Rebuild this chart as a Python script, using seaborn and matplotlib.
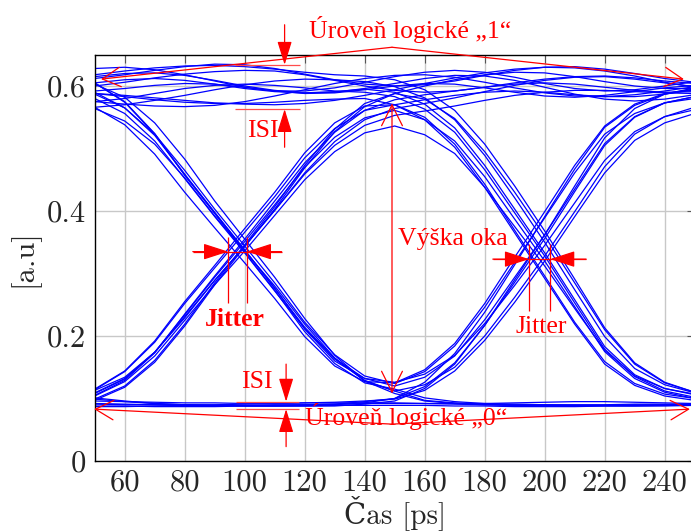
import matplotlib
matplotlib.use("Agg")
import matplotlib.pyplot as plt
import pandas as pd
import seaborn as sns

# sampling instants of every recorded trace [ps]
time_ps = [50, 60, 70, 80, 90, 100, 110, 120, 130, 140, 150,
           160, 170, 180, 190, 200, 210, 220, 230, 240, 250]

# traces grouped by the three bits they carry (at ~48, ~148 and ~248 ps)
trace_111 = [
    [0.600, 0.606, 0.613, 0.619, 0.623, 0.625, 0.624, 0.618, 0.609, 0.600, 0.593, 0.590, 0.592, 0.598, 0.605, 0.611, 0.615, 0.616, 0.613, 0.608, 0.604],
    [0.588, 0.585, 0.581, 0.577, 0.573, 0.571, 0.570, 0.572, 0.577, 0.585, 0.594, 0.604, 0.613, 0.621, 0.627, 0.630, 0.629, 0.624, 0.616, 0.606, 0.598],
    [0.615, 0.620, 0.621, 0.617, 0.609, 0.600, 0.593, 0.589, 0.590, 0.596, 0.604, 0.612, 0.617, 0.616, 0.609, 0.598, 0.587, 0.579, 0.576, 0.579, 0.586],
    [0.592, 0.596, 0.601, 0.604, 0.603, 0.598, 0.592, 0.588, 0.589, 0.594, 0.600, 0.604, 0.603, 0.597, 0.590, 0.584, 0.582, 0.585, 0.591, 0.597, 0.601],
    [0.628, 0.630, 0.626, 0.618, 0.608, 0.598, 0.592, 0.592, 0.597, 0.606, 0.615, 0.622, 0.625, 0.622, 0.614, 0.604, 0.596, 0.592, 0.594, 0.600, 0.607],
    [0.575, 0.571, 0.568, 0.567, 0.569, 0.575, 0.584, 0.594, 0.604, 0.612, 0.617, 0.618, 0.614, 0.606, 0.597, 0.589, 0.584, 0.583, 0.586, 0.592, 0.599],
    [0.612, 0.618, 0.625, 0.631, 0.635, 0.634, 0.628, 0.619, 0.610, 0.603, 0.600, 0.602, 0.608, 0.617, 0.625, 0.630, 0.631, 0.627, 0.620, 0.612, 0.606],
]
trace_110 = [
    [0.605, 0.610, 0.612, 0.609, 0.603, 0.596, 0.591, 0.589, 0.591, 0.595, 0.590, 0.571, 0.533, 0.473, 0.403, 0.333, 0.258, 0.183, 0.138, 0.116, 0.106],
    [0.588, 0.583, 0.578, 0.574, 0.572, 0.572, 0.574, 0.577, 0.579, 0.580, 0.570, 0.546, 0.502, 0.438, 0.365, 0.292, 0.219, 0.155, 0.121, 0.104, 0.097],
    [0.618, 0.624, 0.629, 0.632, 0.633, 0.631, 0.627, 0.622, 0.618, 0.616, 0.610, 0.594, 0.561, 0.507, 0.440, 0.368, 0.291, 0.213, 0.157, 0.126, 0.110],
    [0.575, 0.580, 0.588, 0.596, 0.601, 0.603, 0.601, 0.597, 0.592, 0.590, 0.583, 0.563, 0.526, 0.466, 0.397, 0.328, 0.253, 0.179, 0.135, 0.112, 0.102],
    [0.566, 0.570, 0.577, 0.585, 0.594, 0.602, 0.608, 0.611, 0.610, 0.607, 0.599, 0.581, 0.546, 0.489, 0.421, 0.350, 0.274, 0.199, 0.148, 0.122, 0.109],
]
trace_011 = [
    [0.105, 0.129, 0.173, 0.235, 0.296, 0.355, 0.416, 0.477, 0.526, 0.561, 0.578, 0.586, 0.592, 0.598, 0.603, 0.605, 0.603, 0.598, 0.593, 0.590, 0.591],
    [0.114, 0.143, 0.190, 0.252, 0.309, 0.366, 0.423, 0.485, 0.532, 0.561, 0.570, 0.578, 0.585, 0.590, 0.592, 0.590, 0.586, 0.583, 0.583, 0.587, 0.594],
    [0.097, 0.118, 0.158, 0.216, 0.282, 0.343, 0.403, 0.469, 0.527, 0.567, 0.588, 0.600, 0.610, 0.618, 0.622, 0.621, 0.615, 0.607, 0.600, 0.596, 0.596],
    [0.109, 0.132, 0.174, 0.231, 0.289, 0.344, 0.401, 0.459, 0.505, 0.537, 0.553, 0.560, 0.568, 0.577, 0.585, 0.590, 0.593, 0.593, 0.591, 0.589, 0.588],
    [0.113, 0.134, 0.174, 0.229, 0.289, 0.344, 0.401, 0.461, 0.511, 0.546, 0.564, 0.572, 0.581, 0.591, 0.601, 0.609, 0.614, 0.615, 0.611, 0.605, 0.599],
]
trace_010 = [
    [0.104, 0.127, 0.168, 0.225, 0.282, 0.336, 0.393, 0.450, 0.495, 0.525, 0.536, 0.522, 0.492, 0.438, 0.375, 0.312, 0.244, 0.177, 0.136, 0.116, 0.107],
    [0.115, 0.144, 0.192, 0.255, 0.313, 0.372, 0.430, 0.493, 0.541, 0.568, 0.570, 0.550, 0.507, 0.443, 0.369, 0.296, 0.222, 0.159, 0.124, 0.107, 0.100],
    [0.099, 0.120, 0.161, 0.219, 0.285, 0.346, 0.407, 0.473, 0.531, 0.572, 0.588, 0.579, 0.548, 0.495, 0.430, 0.360, 0.285, 0.210, 0.155, 0.125, 0.110],
    [0.108, 0.131, 0.174, 0.234, 0.294, 0.351, 0.410, 0.470, 0.518, 0.549, 0.561, 0.546, 0.512, 0.455, 0.387, 0.320, 0.247, 0.175, 0.132, 0.110, 0.100],
]
trace_101 = [
    [0.590, 0.565, 0.521, 0.459, 0.397, 0.338, 0.276, 0.214, 0.164, 0.132, 0.120, 0.134, 0.168, 0.226, 0.294, 0.362, 0.435, 0.508, 0.551, 0.573, 0.583],
    [0.566, 0.538, 0.491, 0.430, 0.373, 0.317, 0.260, 0.199, 0.152, 0.127, 0.125, 0.146, 0.188, 0.252, 0.326, 0.399, 0.473, 0.536, 0.571, 0.588, 0.595],
    [0.603, 0.582, 0.541, 0.483, 0.416, 0.355, 0.294, 0.228, 0.169, 0.128, 0.112, 0.122, 0.150, 0.200, 0.262, 0.328, 0.399, 0.471, 0.523, 0.551, 0.566],
    [0.587, 0.565, 0.523, 0.465, 0.403, 0.344, 0.285, 0.222, 0.170, 0.136, 0.124, 0.143, 0.184, 0.246, 0.318, 0.389, 0.461, 0.523, 0.556, 0.573, 0.580],
    [0.605, 0.575, 0.524, 0.458, 0.398, 0.337, 0.277, 0.211, 0.160, 0.132, 0.126, 0.139, 0.169, 0.220, 0.281, 0.345, 0.413, 0.481, 0.527, 0.551, 0.562],
]
trace_100 = [
    [0.580, 0.556, 0.512, 0.452, 0.391, 0.333, 0.272, 0.212, 0.163, 0.129, 0.112, 0.097, 0.093, 0.091, 0.090, 0.090, 0.090, 0.090, 0.091, 0.091, 0.091],
    [0.605, 0.574, 0.523, 0.457, 0.396, 0.334, 0.273, 0.207, 0.156, 0.125, 0.115, 0.101, 0.095, 0.092, 0.091, 0.090, 0.089, 0.089, 0.089, 0.090, 0.090],
    [0.564, 0.544, 0.507, 0.453, 0.392, 0.336, 0.280, 0.219, 0.165, 0.128, 0.108, 0.096, 0.092, 0.090, 0.089, 0.088, 0.088, 0.088, 0.088, 0.089, 0.089],
]
trace_001 = [
    [0.091, 0.090, 0.090, 0.089, 0.089, 0.089, 0.090, 0.090, 0.091, 0.095, 0.100, 0.119, 0.157, 0.217, 0.286, 0.356, 0.431, 0.505, 0.550, 0.573, 0.583],
    [0.088, 0.088, 0.087, 0.087, 0.087, 0.088, 0.088, 0.089, 0.090, 0.093, 0.100, 0.126, 0.172, 0.238, 0.314, 0.391, 0.467, 0.534, 0.569, 0.587, 0.595],
    [0.096, 0.095, 0.094, 0.093, 0.093, 0.092, 0.092, 0.093, 0.094, 0.096, 0.099, 0.113, 0.144, 0.193, 0.254, 0.320, 0.391, 0.461, 0.513, 0.541, 0.556],
    [0.101, 0.096, 0.092, 0.090, 0.089, 0.088, 0.088, 0.088, 0.088, 0.091, 0.096, 0.116, 0.155, 0.217, 0.290, 0.362, 0.440, 0.517, 0.564, 0.587, 0.597],
]
trace_000 = [
    [0.092, 0.091, 0.090, 0.090, 0.089, 0.089, 0.089, 0.090, 0.091, 0.092, 0.092, 0.092, 0.091, 0.090, 0.089, 0.089, 0.089, 0.089, 0.090, 0.090, 0.091],
    [0.099, 0.095, 0.092, 0.090, 0.089, 0.088, 0.088, 0.088, 0.089, 0.089, 0.089, 0.089, 0.088, 0.088, 0.087, 0.087, 0.087, 0.088, 0.088, 0.088, 0.089],
    [0.087, 0.087, 0.088, 0.089, 0.090, 0.091, 0.092, 0.093, 0.093, 0.093, 0.093, 0.092, 0.092, 0.092, 0.093, 0.094, 0.095, 0.095, 0.094, 0.093, 0.092],
]

x_ticks = [60, 80, 100, 120, 140, 160, 180, 200, 220, 240]
y_ticks = [0, 0.2, 0.4, 0.6]
y_tick_labels = ["0", "0.2", "0.4", "0.6"]

# long table: one row per sample
rows = []
groups = [trace_111, trace_110, trace_011, trace_010,
          trace_101, trace_100, trace_001, trace_000]
tid = 0
for group in groups:
    for trace in group:
        for t, v in zip(time_ps, trace):
            rows.append({"trace": tid, "time": t, "level": v})
        tid += 1
eye = pd.DataFrame(rows)

sns.set_style("white")
plt.rcParams["font.family"] = ["cmr10", "DejaVu Serif"]
plt.rcParams["axes.unicode_minus"] = False
plt.rcParams["mathtext.fontset"] = "cm"

W, H = 691, 532
fig = plt.figure(figsize=(W / 100, H / 100), dpi=100)
ax = fig.add_axes([94.7 / W, (H - 461) / H, 600 / W, 406.25 / H])

sns.lineplot(data=eye, x="time", y="level", units="trace", estimator=None,
             color="#0000ff", lw=0.9, sort=False, legend=False, ax=ax)

ax.set_xlim(50, 250)
ax.set_ylim(0, 0.65)
ax.set_xticks(x_ticks)
ax.set_xticklabels([str(v) for v in x_ticks])
ax.set_yticks(y_ticks)
ax.set_yticklabels(y_tick_labels)
ax.grid(True, color="#c8c8c8", lw=1.0)
ax.set_axisbelow(True)
for s in ax.spines.values():
    s.set_color("black")
    s.set_linewidth(1.0)
ax.tick_params(direction="in", length=6, width=0.8, color="#555555",
               labelsize=22, top=True, right=True, pad=6)
ax.set_xlabel("Čas [ps]", fontsize=21)
ax.set_ylabel("[a.u]", fontsize=22)
ax.xaxis.set_label_coords(0.5, -0.085)
ax.yaxis.set_label_coords(-0.092, 0.5)

RED = "#ff0000"
TXT = dict(color=RED, family=["Liberation Serif", "DejaVu Serif"],
           fontsize=18.5, ha="center", va="center", clip_on=False)


def arrow(start, tip, style):
    ax.annotate("", xy=tip, xytext=start, annotation_clip=False,
                arrowprops=dict(arrowstyle=style, color=RED, lw=0.9,
                                shrinkA=0, shrinkB=0, mutation_scale=10))


def seg(p, q, color=RED):
    ax.plot([p[0], q[0]], [p[1], q[1]], color=color, lw=0.9,
            clip_on=False, solid_capstyle="butt")


open_head = "->,head_length=1.3,head_width=0.7"
eye_head = "<->,head_length=1.5,head_width=0.75"
solid_head = "-|>,head_length=1.45,head_width=0.45"
jit_head = "-|>,head_length=1.55,head_width=0.5"

# logic "1" level
arrow((149.1, 0.662), (52.1, 0.611), open_head)
arrow((149.1, 0.662), (246.4, 0.611), open_head)
ax.text(155.1, 0.690, "Úroveň logické „1“", **TXT)

# logic "0" level
arrow((149.1, 0.059), (49.8, 0.083), open_head)
arrow((149.1, 0.059), (248.4, 0.083), open_head)
ax.text(153.8, 0.071, "Úroveň logické „0“", **TXT)

# eye height
arrow((149.1, 0.572), (149.1, 0.108), eye_head)
ax.text(169.3, 0.355, "Výška oka", **TXT)

# ISI on the upper level
seg((96.8, 0.634), (118.4, 0.634), "#ff4d4d")
seg((96.8, 0.563), (118.4, 0.563), "#ff4d4d")
arrow((113.3, 0.698), (113.3, 0.634), solid_head)
arrow((113.3, 0.502), (113.3, 0.563), solid_head)
ax.text(106.1, 0.528, "ISI", **TXT)

# ISI on the lower level
seg((97.1, 0.095), (118.1, 0.095), "#ff4d4d")
seg((97.1, 0.083), (118.1, 0.083), "#ff4d4d")
arrow((113.8, 0.155), (113.8, 0.095), solid_head)
arrow((113.8, 0.023), (113.8, 0.083), solid_head)
ax.text(104.1, 0.126, "ISI", **TXT)

# jitter, first crossing
seg((82.7, 0.335), (112.3, 0.335))
seg((94.5, 0.253), (94.5, 0.359))
seg((100.7, 0.253), (100.7, 0.359))
arrow((82.7, 0.335), (94.5, 0.335), jit_head)
arrow((112.3, 0.335), (100.7, 0.335), jit_head)
ax.text(96.8, 0.226, "Jitter", fontweight="bold", **TXT)

# jitter, second crossing
seg((182.7, 0.323), (213.8, 0.323))
seg((194.8, 0.240), (194.8, 0.347))
seg((201.8, 0.240), (201.8, 0.347))
arrow((182.7, 0.323), (194.8, 0.323), jit_head)
arrow((213.8, 0.323), (201.8, 0.323), jit_head)
ax.text(199.0, 0.214, "Jitter", **TXT)

fig.savefig("out.png", dpi=100)
